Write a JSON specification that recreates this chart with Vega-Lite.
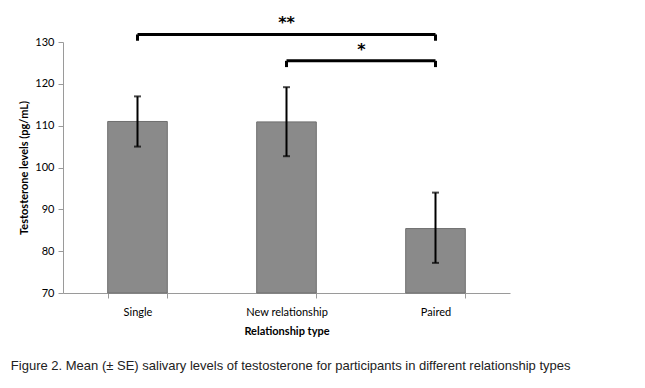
{
  "$schema": "https://vega.github.io/schema/vega-lite/v6.json",
  "autosize": {"type": "none"},
  "width": 447,
  "height": 251,
  "padding": {"left": 63, "top": 42, "right": 135, "bottom": 95},
  "background": "white",
  "config": {
    "view": {"stroke": null},
    "font": "Lato"
  },
  "title": {
    "text": "Figure 2. Mean (± SE) salivary levels of testosterone for participants in different relationship types",
    "orient": "bottom",
    "anchor": "start",
    "frame": "bounds",
    "dx": -8,
    "offset": 24,
    "font": "Liberation Sans",
    "fontSize": 13,
    "fontWeight": "normal",
    "color": "#222222"
  },
  "datasets": {
    "bars": [
      {"type": "Single", "mean": 111.0, "lo": 105.0, "hi": 117.0},
      {"type": "New relationship", "mean": 110.9, "lo": 102.7, "hi": 119.2},
      {"type": "Paired", "mean": 85.4, "lo": 77.2, "hi": 94.0}
    ],
    "brackets": [
      {"from": "Single", "to": "Paired", "y": 131.8},
      {"from": "New relationship", "to": "Paired", "y": 125.5}
    ],
    "legs": [
      {"at": "Single", "top": 131.8, "bottom": 130.3},
      {"at": "Paired", "top": 131.8, "bottom": 130.3},
      {"at": "New relationship", "top": 125.5, "bottom": 124.0},
      {"at": "Paired", "top": 125.5, "bottom": 124.0}
    ]
  },
  "layer": [
    {
      "data": {"name": "bars"},
      "mark": {"type": "bar", "fill": "#8a8a8a", "stroke": "#6e6e6e", "strokeWidth": 1},
      "encoding": {
        "x": {
          "field": "type", "type": "nominal", "sort": null,
          "scale": {"paddingInner": 0.6, "paddingOuter": 0.3},
          "axis": {
            "title": "Relationship type",
            "titleFont": "Lato", "titleFontSize": 11, "titleFontWeight": "bold", "titleColor": "#000000",
            "titlePadding": 8,
            "labelAngle": 0, "labelFont": "Lato", "labelFontSize": 11, "labelColor": "#000000",
            "labelPadding": 8,
            "tickBand": "extent", "tickSize": 5, "tickColor": "#9a9a9a",
            "domainColor": "#9a9a9a"
          }
        },
        "y": {
          "field": "mean", "type": "quantitative",
          "scale": {"domain": [70, 130], "zero": false, "nice": false},
          "axis": {
            "title": "Testosterone levels (pg/mL)",
            "titleFont": "Lato", "titleFontSize": 11, "titleFontWeight": "bold", "titleColor": "#000000",
            "titlePadding": 5,
            "values": [70, 80, 90, 100, 110, 120, 130],
            "labelFont": "Lato", "labelFontSize": 11, "labelColor": "#000000",
            "labelPadding": 4,
            "grid": false, "tickSize": 5, "tickColor": "#9a9a9a", "domainColor": "#9a9a9a"
          }
        },
        "y2": {"datum": 70}
      }
    },
    {
      "data": {"name": "bars"},
      "mark": {"type": "rule", "color": "#000000", "strokeWidth": 2},
      "encoding": {
        "x": {"field": "type", "type": "nominal", "sort": null},
        "y": {"field": "lo", "type": "quantitative"},
        "y2": {"field": "hi"}
      }
    },
    {
      "data": {"name": "bars"},
      "mark": {"type": "tick", "color": "#000000", "thickness": 2, "size": 7, "orient": "horizontal"},
      "encoding": {
        "x": {"field": "type", "type": "nominal", "sort": null},
        "y": {"field": "lo", "type": "quantitative"}
      }
    },
    {
      "data": {"name": "bars"},
      "mark": {"type": "tick", "color": "#000000", "thickness": 2, "size": 7, "orient": "horizontal"},
      "encoding": {
        "x": {"field": "type", "type": "nominal", "sort": null},
        "y": {"field": "hi", "type": "quantitative"}
      }
    },
    {
      "data": {"name": "brackets"},
      "mark": {"type": "rule", "color": "#000000", "strokeWidth": 3},
      "encoding": {
        "x": {"field": "from", "type": "nominal", "sort": null},
        "x2": {"field": "to"},
        "y": {"field": "y", "type": "quantitative"}
      }
    },
    {
      "data": {"name": "legs"},
      "mark": {"type": "rule", "color": "#000000", "strokeWidth": 3},
      "encoding": {
        "x": {"field": "at", "type": "nominal", "sort": null},
        "y": {"field": "bottom", "type": "quantitative"},
        "y2": {"field": "top"}
      }
    },
    {
      "data": {"values": [{"at": "New relationship", "y": 134.6, "label": "**"}]},
      "mark": {"type": "text", "font": "DejaVu Sans", "fontSize": 16, "fontWeight": "bold", "color": "#000000"},
      "encoding": {
        "x": {"field": "at", "type": "nominal", "sort": null},
        "y": {"field": "y", "type": "quantitative"},
        "text": {"field": "label"}
      }
    },
    {
      "data": {"values": [{"at": "Paired", "y": 128.0, "label": "*"}]},
      "mark": {"type": "text", "font": "DejaVu Sans", "fontSize": 16, "fontWeight": "bold", "color": "#000000", "dx": -74},
      "encoding": {
        "x": {"field": "at", "type": "nominal", "sort": null},
        "y": {"field": "y", "type": "quantitative"},
        "text": {"field": "label"}
      }
    }
  ]
}
